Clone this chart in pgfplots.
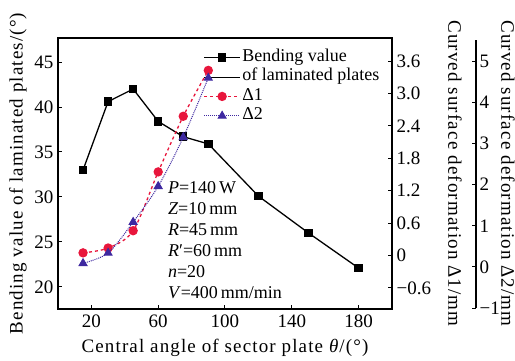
\documentclass[border=0pt]{standalone}
\usepackage{pgfplots}
\pgfplotsset{compat=1.18}
\usepackage{fontspec}
\setmainfont{Liberation Serif}
\definecolor{myred}{RGB}{232,22,60}
\definecolor{myblue}{RGB}{62,40,160}
\newcommand{\tickfont}{\fontsize{19}{21}\selectfont}
\newcommand{\legfont}{\fontsize{18}{21}\selectfont}
\newcommand{\labfont}{\fontsize{19}{22}\selectfont\addfontfeatures{LetterSpace=6}}
\pgfplotsset{
  base/.style={scale only axis, width=334pt, height=271pt, xmin=0, xmax=200,
    tick align=inside, major tick length=4pt,
    axis line style={line width=1.1pt},
    tick style={line width=1pt, black},
    tick label style={font=\tickfont},
    /pgf/number format/assume math mode=true},
}
\begin{document}
\begin{tikzpicture}
\useasboundingbox (-58pt,-51pt) rectangle (457pt,309pt);
% main axis: bending value
\begin{axis}[base,
  ymin=17.55, ymax=47.67,
  xtick={20,60,100,140,180}, ytick={20,25,30,35,40,45},
  xtick pos=bottom, ytick pos=left,
  xlabel={Central angle of sector plate \textit{θ}/(°)},
  ylabel={Bending value of laminated plates/(°)},
  xlabel style={font=\labfont, at={(axis description cs:0.5,0)}, anchor=center, yshift=-39pt},
  ylabel style={font=\labfont, at={(axis description cs:0,0.5)}, anchor=center, yshift=40pt},
  xticklabel style={yshift=-2pt},
  yticklabel style={xshift=-1pt},
  legend cell align=left,
  legend image code/.code={\draw[mark repeat=2,mark phase=2,#1] plot coordinates {(0pt,0pt)(18pt,0pt)(36pt,0pt)};},
  legend style={at={(rel axis cs:0.435,0.965)}, anchor=north west, draw=none, fill=none,
    font=\legfont, row sep=0pt, inner sep=0pt,
    nodes={inner sep=1.5pt, text height=12pt, text depth=4.5pt}},
]
\addplot[black, line width=1.3pt, mark=square*, mark size=3.6pt] coordinates {
 (15,33.0) (30,40.6) (45,42.0) (60,38.4) (75,36.7) (90,35.9) (120,30.1) (150,26.0) (180,22.1)};
\addlegendimage{draw=none, mark=none}
\addlegendimage{myred, dashed, line width=1.3pt, mark=*, mark size=4pt, mark options={solid}}
\addlegendimage{myblue, densely dotted, line width=1pt, mark=triangle*, mark size=4.5pt, mark options={solid}}
\legend{Bending value, of laminated plates, Δ1, Δ2}
\node[anchor=north west, align=left, inner sep=0pt, font=\legfont] at (rel axis cs:0.329,0.47)
 {\textit{P}=140\,W\\ \textit{Z}=10\,mm\\ \textit{R}=45\,mm\\ \textit{R}′=60\,mm\\ \textit{n}=20\\ \textit{V}=400\,mm/min};
\end{axis}
% Delta 1 axis
\begin{axis}[base,
  ymin=-0.99, ymax=4.03,
  axis x line=none, axis y line*=right,
  ytick={-0.6,0,0.6,1.2,1.8,2.4,3.0,3.6},
  yticklabels={−0.6,0,0.6,1.2,1.8,2.4,3.0,3.6},
  yticklabel style={xshift=1pt},
  ylabel={Curved surface deformation Δ1/mm},
  ylabel style={font=\labfont, at={(axis description cs:1,0.5)}, anchor=center, rotate=180, yshift=63pt},
]
\addplot[myred, dashed, line width=1.3pt, mark=*, mark size=4pt, mark options={solid}, smooth] coordinates {
 (15,0.05) (30,0.14) (45,0.46) (60,1.55) (75,2.58) (90,3.43)};
\end{axis}
% Delta 2 data (hidden axis)
\begin{axis}[base, ymin=-1.02, ymax=5.56, hide axis]
\addplot[myblue, densely dotted, line width=1pt, mark=triangle*, mark size=4.5pt, mark options={solid}, smooth] coordinates {
 (15,0.09) (30,0.34) (45,1.09) (60,1.96) (75,3.15) (90,4.59)};
\end{axis}
% Delta 2 axis display
\begin{axis}[scale only axis, width=1pt, height=271pt, at={(417pt,0pt)},
  xmin=0, xmax=1, ymin=-1.02, ymax=5.56,
  axis x line=none, axis y line*=right,
  y axis line style={line width=1.1pt, -, shorten >=2pt, shorten <=1pt},
  tick align=inside, major tick length=4pt, tick style={line width=1pt, black},
  ytick={-1,0,1,2,3,4,5},
  yticklabels={−1,0,1,2,3,4,5},
  tick label style={font=\tickfont},
  ylabel={Curved surface deformation Δ2/mm},
  ylabel style={font=\labfont, at={(axis description cs:1,0.5)}, anchor=center, rotate=180, yshift=32pt},
]
\addplot[draw=none] coordinates {(0,0)};
\end{axis}
\end{tikzpicture}
\end{document}
